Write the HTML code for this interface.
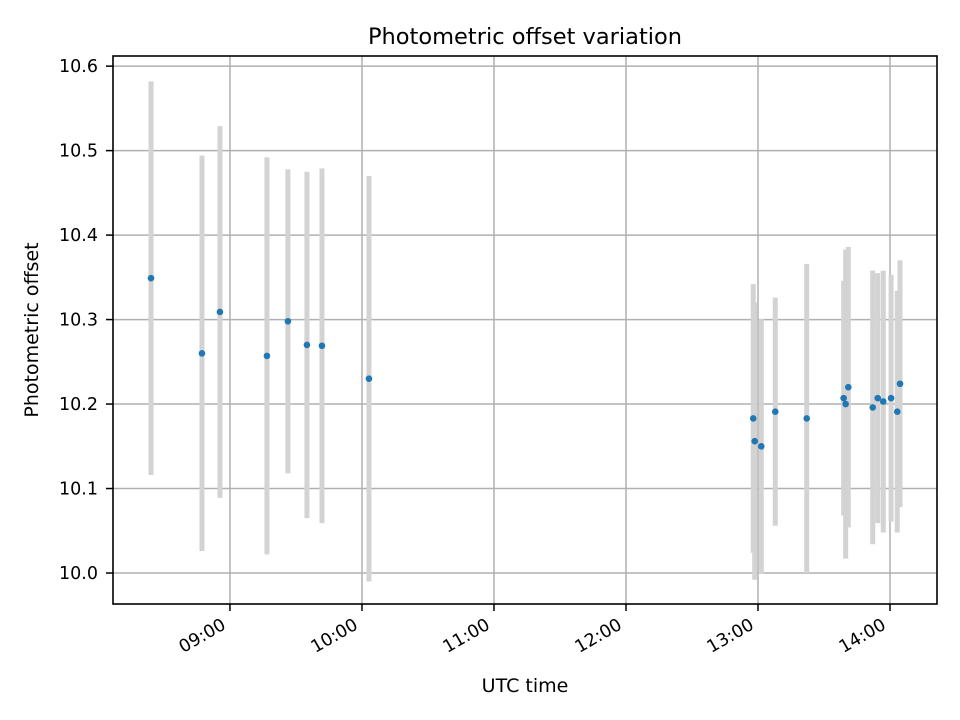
<!DOCTYPE html>
<html><head><meta charset="utf-8"><style>
html,body{margin:0;padding:0;background:#fff;}
svg{display:block;font-family:"DejaVu Sans","Liberation Sans",sans-serif;}
</style></head><body>
<svg id="chart" width="960" height="720" viewBox="0 0 960 720" xmlns="http://www.w3.org/2000/svg">
<rect width="960" height="720" fill="#fff"/>
<g id="grid"></g>
<g id="bars"></g>
<g id="points"></g>
<rect x="113" y="56" width="824" height="548" fill="none" stroke="#000" stroke-width="1.6"/>
<g id="ticks"></g>
<text x="525" y="44" text-anchor="middle" font-size="22.5">Photometric offset variation</text>
<text x="525" y="692" text-anchor="middle" font-size="19">UTC time</text>
<text x="38" y="330" text-anchor="middle" font-size="19" transform="rotate(-90,38,330)">Photometric offset</text>
</svg>
<script>
// times in decimal UTC hours
const times = [8.402, 8.788, 8.924, 9.280, 9.439, 9.583, 9.697, 10.053,
  12.964, 12.975, 13.025, 13.131, 13.369, 13.649, 13.664, 13.684, 13.869, 13.907, 13.949, 14.008, 14.055, 14.076];
const offsets = [10.349, 10.260, 10.309, 10.257, 10.298, 10.270, 10.269, 10.230,
  10.183, 10.156, 10.150, 10.191, 10.183, 10.207, 10.200, 10.220, 10.196, 10.207, 10.203, 10.207, 10.191, 10.224];
const errors = [0.233, 0.234, 0.220, 0.235, 0.180, 0.205, 0.210, 0.240,
  0.159, 0.164, 0.151, 0.135, 0.183, 0.139, 0.183, 0.166, 0.162, 0.148, 0.155, 0.146, 0.143, 0.146];
const xTickHours = [9, 10, 11, 12, 13, 14];
const xTickLabels = ["09:00", "10:00", "11:00", "12:00", "13:00", "14:00"];
const yTickValues = [10.0, 10.1, 10.2, 10.3, 10.4, 10.5, 10.6];
const yTickLabels = ["10.0", "10.1", "10.2", "10.3", "10.4", "10.5", "10.6"];

const X0 = 113, X1 = 937, Y0 = 604, Y1 = 56;
const xMin = 8.114, xMax = 14.356, yMin = 9.9633, yMax = 10.612;
const xs = t => X0 + (t - xMin) / (xMax - xMin) * (X1 - X0);
const ys = v => Y0 - (v - yMin) / (yMax - yMin) * (Y0 - Y1);
const NS = "http://www.w3.org/2000/svg";
function mk(tag, parent, attrs) {
  const el = document.createElementNS(NS, tag);
  for (const k in attrs) el.setAttribute(k, attrs[k]);
  document.getElementById(parent).appendChild(el);
  return el;
}
xTickHours.forEach((h, i) => {
  const x = xs(h);
  const g = mk("line", "grid", {x1: x, x2: x, y1: Y1, y2: Y0, stroke: "#b0b0b0", "stroke-width": 1.5});
  
  
  const t = mk("line", "ticks", {x1: x, x2: x, y1: Y0, y2: Y0 + 7, stroke: "#000", "stroke-width": 1.5});
  
  
  const lb = mk("text", "ticks", {x: x - 3, y: Y0 + 24, "text-anchor": "end", "font-size": 17.5, transform: `rotate(-30,${x - 3},${Y0 + 24})`});
  lb.textContent = xTickLabels[i];
  
  
});
yTickValues.forEach((v, i) => {
  const y = ys(v);
  const g = mk("line", "grid", {x1: X0, x2: X1, y1: y, y2: y, stroke: "#b0b0b0", "stroke-width": 1.5});
  
  
  const t = mk("line", "ticks", {x1: X0 - 7, x2: X0, y1: y, y2: y, stroke: "#000", "stroke-width": 1.5});
  
  
  const lb = mk("text", "ticks", {x: X0 - 15, y: y + 6, "text-anchor": "end", "font-size": 17.5});
  lb.textContent = yTickLabels[i];
  
  
});
times.forEach((t, i) => {
  const x = xs(t);
  const b = mk("line", "bars", {x1: x, x2: x, y1: ys(offsets[i] - errors[i]), y2: ys(offsets[i] + errors[i]), stroke: "#d3d3d3", "stroke-width": 5});
  
  
  const p = mk("circle", "points", {cx: x, cy: ys(offsets[i]), r: 3.3, fill: "#1f77b4"});
  
  
});
</script>
</body></html>
